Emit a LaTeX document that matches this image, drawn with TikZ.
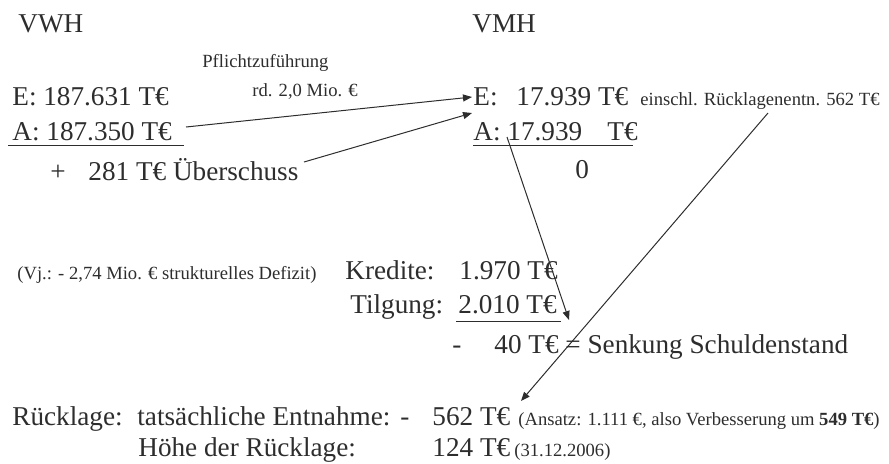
\documentclass[tikz,border=0pt]{standalone}
\usepackage{fontspec}
\setmainfont{Liberation Serif}
\usetikzlibrary{arrows.meta}
\definecolor{ink}{RGB}{45,45,45}
\begin{document}
\begin{tikzpicture}[x=0.5pt,y=-0.5pt,
  every node/.style={inner sep=0pt, anchor=base west, text=ink},
  big/.style={font=\fontsize{13.6}{16}\selectfont},
  small/.style={font=\fontsize{9.3}{11}\selectfont},
  conn/.style={draw=ink, line width=0.5pt},
  arr/.style={conn, -{Triangle[length=4.5pt,width=3.5pt]}}]
\useasboundingbox (0,0) rectangle (889,463);
% headings
\node[big] (vwh) at (18,32) {VWH};
\node[big] (vmh) at (472,32) {VMH};
% VWH column
\node[small] (pfl) at (202,67) {Pflichtzuführung};
\node[big] (we) at (12,105.5) {E: 187.631 T€};
\node[small] (rd) at (252,96.5) {rd. 2,0 Mio. €};
\node[big] (wa) at (12,140) {A: 187.350 T€};
\node[big] (plus) at (50,180) {+};
\node[big] (ueb) at (88,180) {281 T€ Überschuss};
% VMH column
\node[big] (meL) at (473,105.5) {E:};
\node[big] (me) at (516,105.5) {17.939 T€};
\node[small] (einschl) at (640,105.5) {einschl. Rücklagenentn. 562 T€};
\node[big] (ma) at (473,140) {A: 17.939};
\node[big] (maT) at (607,140) {T€};
\node[big] (null) at (575,178) {0};
% Kredite
\node[small] (vj) at (17,279) {(Vj.: - 2,74 Mio. € strukturelles Defizit)};
\node[big] (kred) at (345,279) {Kredite:};
\node[big] (kredv) at (459,279) {1.970 T€};
\node[big] (tilg) at (350,313) {Tilgung:};
\node[big] (tilgv) at (458,313) {2.010 T€};
\node[big] (minus) at (452,353) {-};
\node[big] (senk) at (494,353) {40 T€ = Senkung Schuldenstand};
% Ruecklage
\node[big] (rl) at (12,425) {Rücklage:};
\node[big] (tats) at (137,425) {tatsächliche Entnahme:};
\node[big] (minus2) at (400,425) {-};
\node[big] (entn) at (432,425) {562 T€};
\node[small] (ansatz) at (518,425) {(Ansatz: 1.111 €, also Verbesserung um \textbf{549 T€})};
\node[big] (hoehe) at (138,456) {Höhe der Rücklage:};
\node[big] (hoehev) at (432,456) {124 T€};
\node[small] (dat) at (514,456) {(31.12.2006)};
% underlines
\draw[conn] (8,145) -- (184,145);
\draw[conn] (473,145) -- (633,145);
\draw[conn] (456,321) -- (561,321);
% arrow end points
\coordinate (a1s) at (186,127);
\coordinate (a1e) at (472,97);
\coordinate (a2s) at (304,162);
\coordinate (a2e) at (472,113);
\coordinate (a3s) at (507,137);
\coordinate (a3e) at (569,320);
\coordinate (a4s) at (768,113);
\coordinate (a4e) at (521,401);
\draw[arr] (a1s) -- (a1e);
\draw[arr] (a2s) -- (a2e);
\draw[arr] (a3s) -- (a3e);
\draw[arr] (a4s) -- (a4e);
\end{tikzpicture}
\end{document}
